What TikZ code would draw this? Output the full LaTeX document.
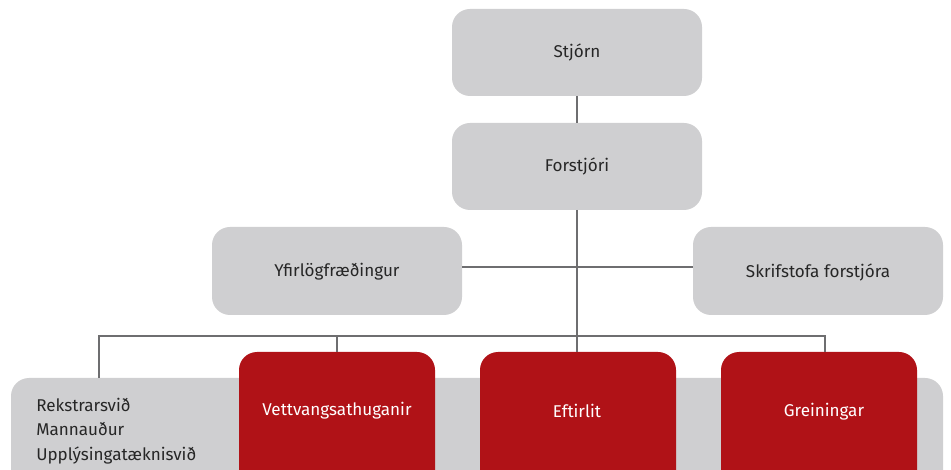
\documentclass[tikz,border=0pt]{standalone}
\usepackage{fontspec}
\setmainfont{Fira Sans}
\definecolor{boxgray}{RGB}{207,207,209}
\definecolor{boxred}{RGB}{176,18,23}
\definecolor{linegray}{RGB}{110,110,112}
\begin{document}
\begin{tikzpicture}[x=0.75pt,y=-0.75pt,
  graybox/.style={fill=boxgray,rounded corners=13.5pt,draw=none},
  redbox/.style={fill=boxred,rounded corners=13.5pt,draw=none},
  conn/.style={draw=linegray,line width=1.2pt},
  lbl/.style={font=\fontsize{12.8}{18.3}\selectfont,text=black!85,inner sep=0pt},
  wlbl/.style={font=\fontsize{12.8}{18}\selectfont,text=white,inner sep=0pt}]
\useasboundingbox (0,0) rectangle (951,470);
\clip (0,0) rectangle (951,470);
% boxes
\path[graybox] (452,9) rectangle (702,96);
\node[lbl] (stjorn) at (577,52) {Stjórn};
\coordinate (stjornB) at (577,96);
\path[graybox] (452,123) rectangle (702,210);
\node[lbl] (forstjori) at (577,166) {Forstjóri};
\coordinate (forT) at (577,123);
\coordinate (forB) at (577,210);
\path[graybox] (212,227) rectangle (462,315);
\node[lbl] (yfir) at (337,272) {Yfirlögfræðingur};
\coordinate (yfirR) at (462,267);
\path[graybox] (693,227) rectangle (943,315);
\node[lbl] (skrif) at (818,272) {Skrifstofa forstjóra};
\coordinate (skrifL) at (693,267);
% bottom band
\path[graybox] (11,378) rectangle (943,500);
\node[lbl,align=left,anchor=west] (svid) at (36,431) {Rekstrarsvið\\Mannauður\\Upplýsingatæknisvið};
\coordinate (bandT) at (99,378);
% red boxes
\path[redbox] (239,352) rectangle (435,500);
\node[wlbl] (vett) at (337,411) {Vettvangsathuganir};
\coordinate (vettT) at (337,352);
\path[redbox] (480,352) rectangle (676,500);
\node[wlbl] (eft) at (577,411) {Eftirlit};
\coordinate (eftT) at (577,352);
\path[redbox] (721,352) rectangle (917,500);
\node[wlbl] (grein) at (824,412) {Greiningar};
\coordinate (greinT) at (825,352);
% connectors
\coordinate (hbL) at (99,336);
\coordinate (hbR) at (825,336);
\draw[conn] (stjornB) -- (forT);
\draw[conn] (forB) -- (eftT);
\draw[conn] (yfirR) -- (skrifL);
\draw[conn] (bandT) -- (hbL) -- (hbR) -- (greinT);
\draw[conn] (vettT) -- (337,336);
\end{tikzpicture}
\end{document}
